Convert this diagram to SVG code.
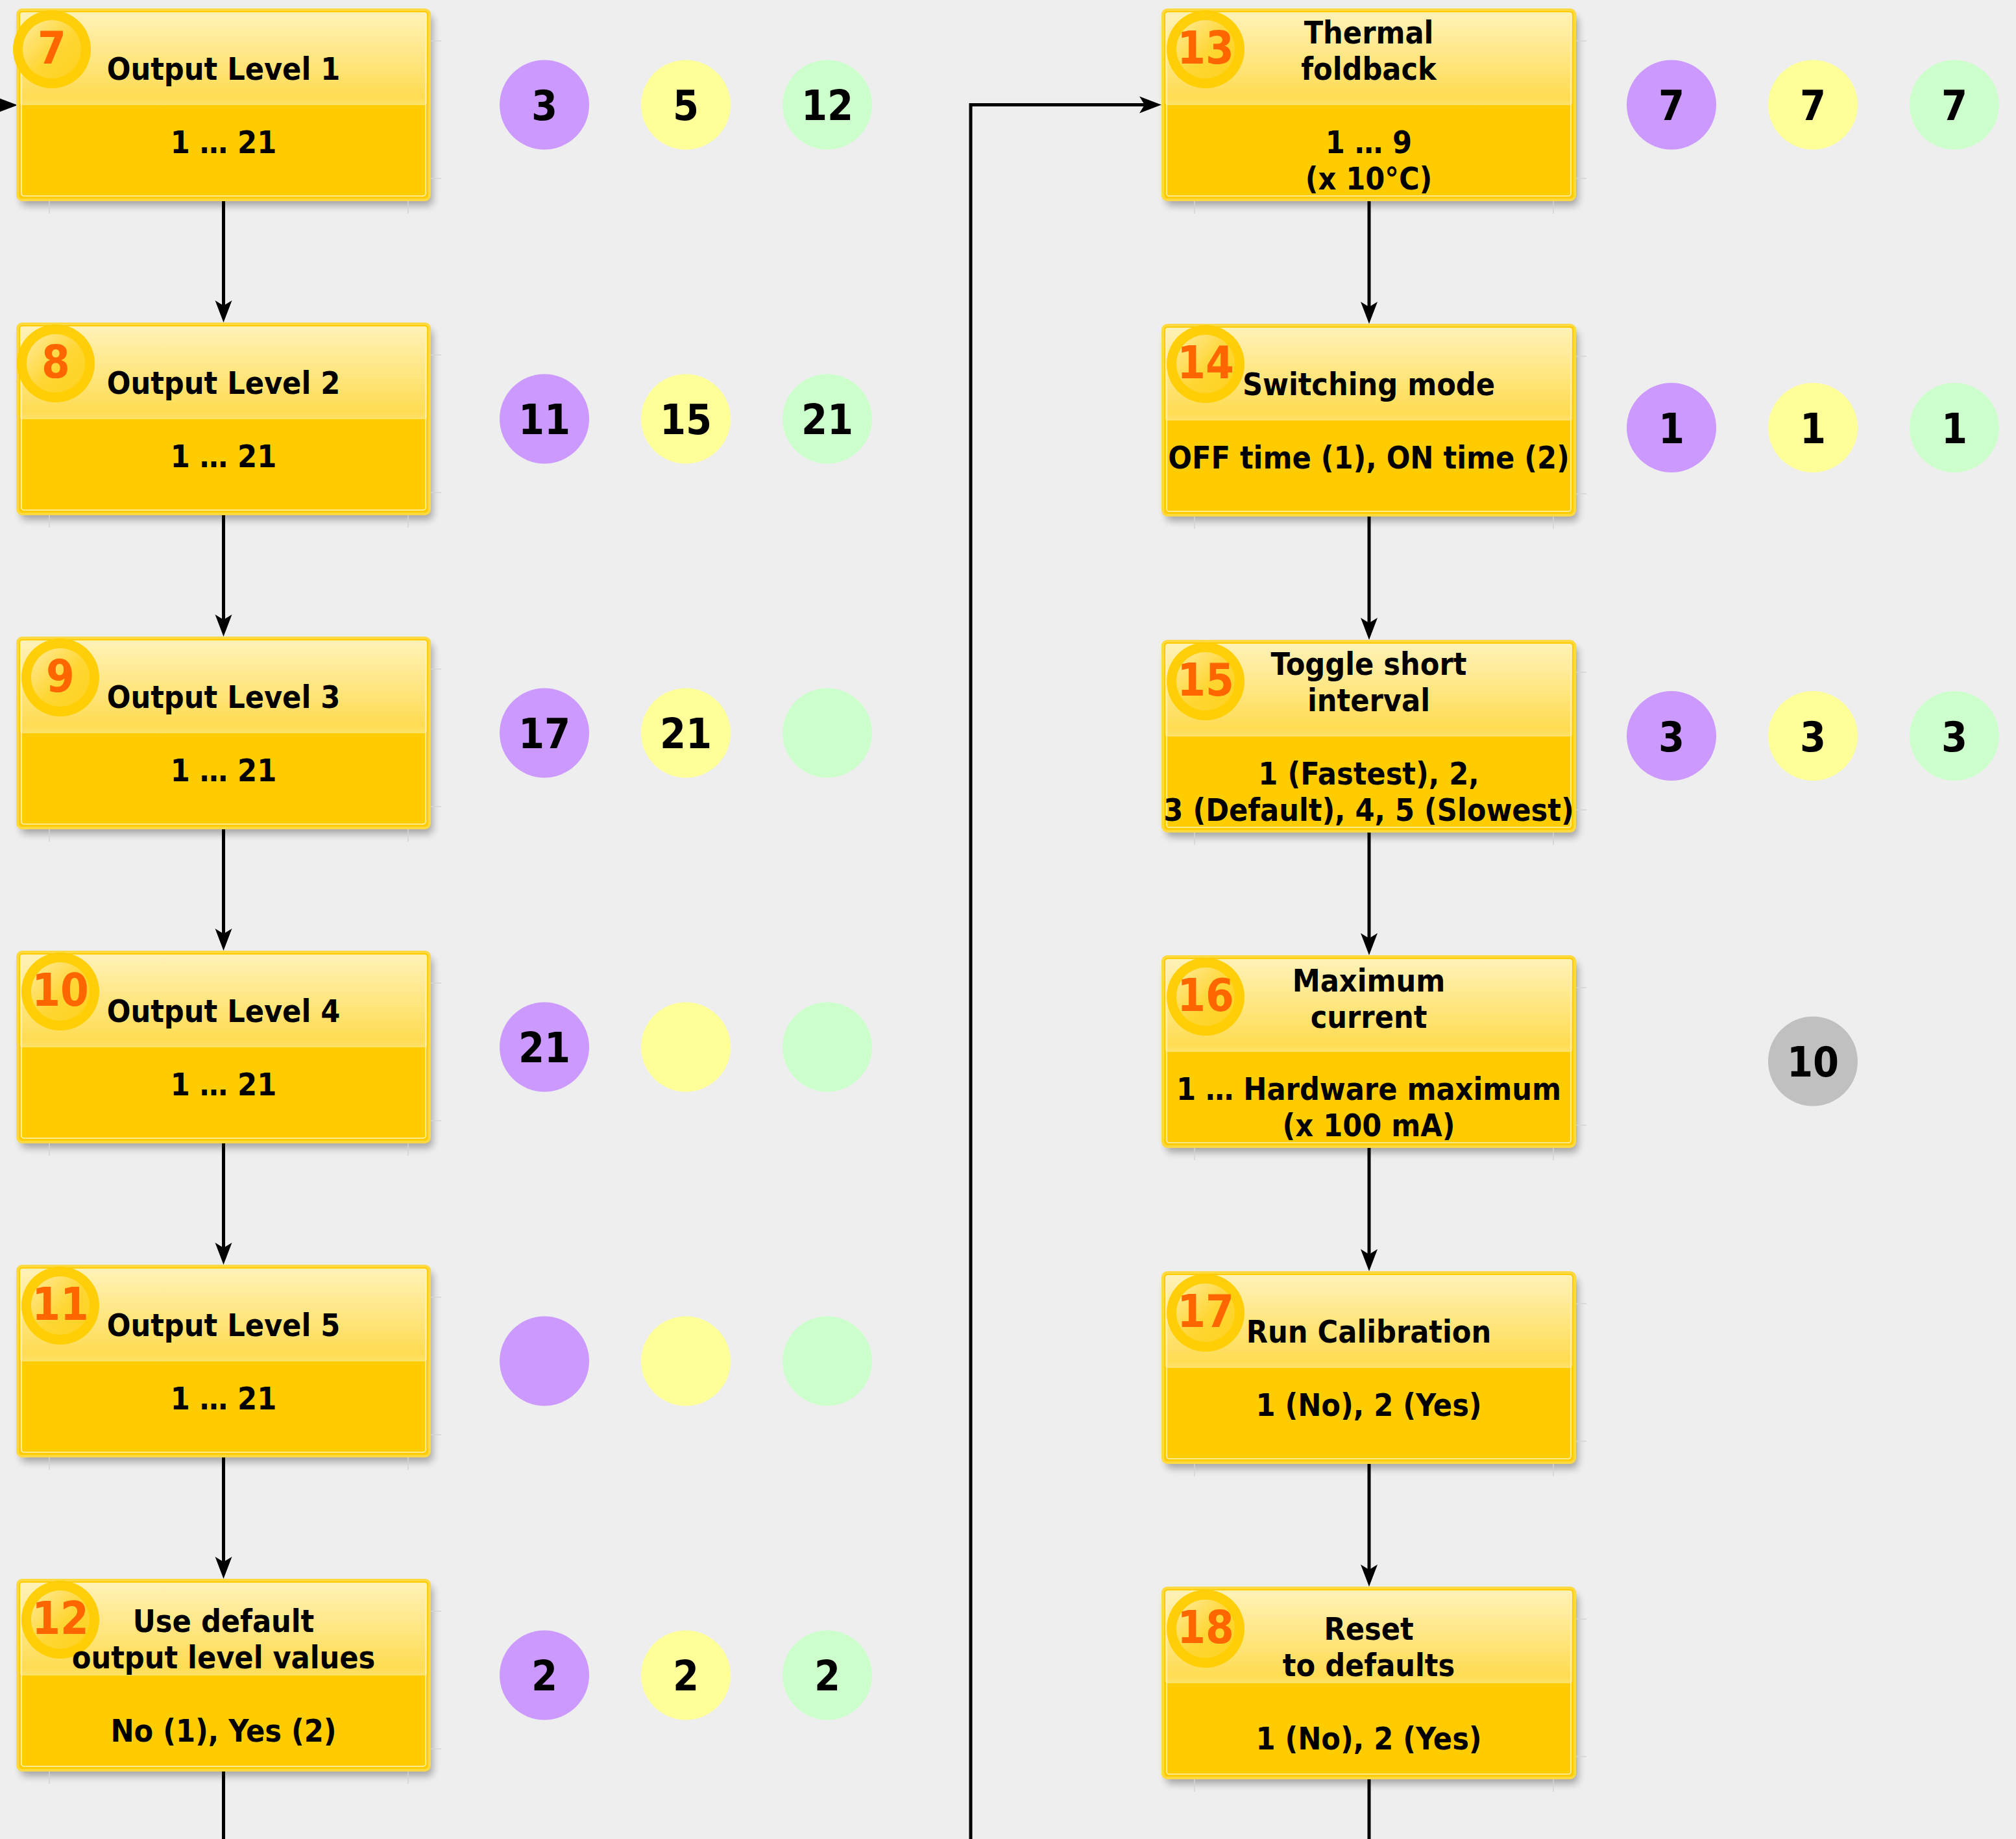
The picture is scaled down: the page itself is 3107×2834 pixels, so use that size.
<svg xmlns="http://www.w3.org/2000/svg" width="3107" height="2834" viewBox="0 0 3107 2834">
<defs>
<style>
.bg{fill:#EEEEEE}
.sh{fill:#000;opacity:.3}
.sl{stroke:#D4D4D4;stroke-width:1.5;fill:none}
.box{fill:#FFCC00;stroke:#FFD940;stroke-width:4}
.hdr{fill:url(#hg)}
.inb{fill:none;stroke:#FFF2B8;stroke-width:1.6}
.ring{fill:#FFCC00;opacity:.95}
.core{fill:url(#bg2)}
.t{font-family:"DejaVu Sans Condensed","DejaVu Sans",sans-serif;font-stretch:condensed;font-weight:bold;font-size:48px;text-anchor:middle;fill:#000}
.n{font-family:"DejaVu Sans Condensed","DejaVu Sans",sans-serif;font-stretch:condensed;font-weight:bold;font-size:70px;text-anchor:middle;fill:#FF6600}
.c{font-family:"DejaVu Sans Condensed","DejaVu Sans",sans-serif;font-stretch:condensed;font-weight:bold;font-size:64px;text-anchor:middle;fill:#000}
.pu{fill:#CC99FF}.ye{fill:#FFFF99}.gr{fill:#CCFFCC}.gy{fill:#C0C0C0}
.cn{fill:none;stroke:#000;stroke-width:5}
</style>
<linearGradient id="hg" x1="0" y1="0" x2="0" y2="1">
<stop offset="0" stop-color="#FFF2B8"/>
<stop offset="0.92" stop-color="#FFDC52"/>
<stop offset="1" stop-color="#FFE26C"/>
</linearGradient>
<linearGradient id="bg2" x1="0" y1="0" x2="1" y2="1">
<stop offset="0" stop-color="#FFEB9A"/>
<stop offset="0.55" stop-color="#FFD633"/>
<stop offset="1" stop-color="#FFD21F"/>
</linearGradient>
<filter id="blur" x="-10%" y="-10%" width="125%" height="135%">
<feGaussianBlur stdDeviation="6"/>
</filter>
<marker id="arr" viewBox="-9 -14 36 28" refX="0" refY="0" markerWidth="36" markerHeight="28" markerUnits="userSpaceOnUse" orient="auto">
<path d="M26,0 L-8,-13 L0,0 L-8,13 Z" fill="#000"/>
</marker>
<g id="frame">
<rect class="sh" x="5" y="9" width="635" height="293" rx="8" filter="url(#blur)"/>
<path class="sl" d="M49,293 V314 M602,293 V314 M635,48 H653 M635,260 H653"/>
<rect class="box" x="0" y="0" width="635" height="293" rx="7"/>
<rect class="hdr" x="4" y="4" width="627" height="143" rx="4"/>
<rect class="inb" x="6" y="6" width="623" height="281" rx="4"/>
</g>
</defs>
<rect class="bg" x="0" y="0" width="3107" height="2834"/>

<g id="connectors">
<path class="cn" d="M-10,162 H1" marker-end="url(#arr)"/>
<path class="cn" d="M344.5,308 V471" marker-end="url(#arr)"/>
<path class="cn" d="M344.5,792 V955" marker-end="url(#arr)"/>
<path class="cn" d="M344.5,1276 V1439" marker-end="url(#arr)"/>
<path class="cn" d="M344.5,1760 V1923" marker-end="url(#arr)"/>
<path class="cn" d="M344.5,2244 V2407" marker-end="url(#arr)"/>
<path class="cn" d="M344.5,2728 V2840"/>
<path class="cn" d="M1496,2840 V161.5 H1764" marker-end="url(#arr)"/>
<path class="cn" d="M2110,308 V473" marker-end="url(#arr)"/>
<path class="cn" d="M2110,794 V960" marker-end="url(#arr)"/>
<path class="cn" d="M2110,1281 V1446" marker-end="url(#arr)"/>
<path class="cn" d="M2110,1767 V1933" marker-end="url(#arr)"/>
<path class="cn" d="M2110,2254 V2419" marker-end="url(#arr)"/>
<path class="cn" d="M2110,2740 V2840"/>
</g>

<g id="node7" transform="translate(27,15)">
<use href="#frame"/>
<circle class="ring" cx="53" cy="61" r="60"/><circle class="core" cx="53" cy="61" r="45"/>
<text class="n" x="53" y="83">7</text>
<text class="t" x="317.5" y="108">Output Level 1</text>
<text class="t" x="317.5" y="221">1 … 21</text>
</g>
<g id="node8" transform="translate(27,499)">
<use href="#frame"/>
<circle class="ring" cx="59" cy="61" r="60"/><circle class="core" cx="59" cy="61" r="45"/>
<text class="n" x="59" y="83">8</text>
<text class="t" x="317.5" y="108">Output Level 2</text>
<text class="t" x="317.5" y="221">1 … 21</text>
</g>
<g id="node9" transform="translate(27,983)">
<use href="#frame"/>
<circle class="ring" cx="66" cy="61" r="60"/><circle class="core" cx="66" cy="61" r="45"/>
<text class="n" x="66" y="83">9</text>
<text class="t" x="317.5" y="108">Output Level 3</text>
<text class="t" x="317.5" y="221">1 … 21</text>
</g>
<g id="node10" transform="translate(27,1467)">
<use href="#frame"/>
<circle class="ring" cx="66" cy="61" r="60"/><circle class="core" cx="66" cy="61" r="45"/>
<text class="n" x="66" y="83">10</text>
<text class="t" x="317.5" y="108">Output Level 4</text>
<text class="t" x="317.5" y="221">1 … 21</text>
</g>
<g id="node11" transform="translate(27,1951)">
<use href="#frame"/>
<circle class="ring" cx="66" cy="61" r="60"/><circle class="core" cx="66" cy="61" r="45"/>
<text class="n" x="66" y="83">11</text>
<text class="t" x="317.5" y="108">Output Level 5</text>
<text class="t" x="317.5" y="221">1 … 21</text>
</g>
<g id="node12" transform="translate(27,2435)">
<use href="#frame"/>
<circle class="ring" cx="66" cy="61" r="60"/><circle class="core" cx="66" cy="61" r="45"/>
<text class="n" x="66" y="83">12</text>
<text class="t" x="317.5" y="80">Use default</text>
<text class="t" x="317.5" y="136">output level values</text>
<text class="t" x="317.5" y="249">No (1), Yes (2)</text>
</g>

<g id="node13" transform="translate(1792,15)">
<use href="#frame"/>
<circle class="ring" cx="66" cy="61" r="60"/><circle class="core" cx="66" cy="61" r="45"/>
<text class="n" x="66" y="83">13</text>
<text class="t" x="317.5" y="52">Thermal</text>
<text class="t" x="317.5" y="108">foldback</text>
<text class="t" x="317.5" y="221">1 … 9</text>
<text class="t" x="317.5" y="277">(x 10°C)</text>
</g>
<g id="node14" transform="translate(1792,501)">
<use href="#frame"/>
<circle class="ring" cx="66" cy="60" r="60"/><circle class="core" cx="66" cy="60" r="45"/>
<text class="n" x="66" y="82">14</text>
<text class="t" x="317.5" y="108">Switching mode</text>
<text class="t" x="317.5" y="221">OFF time (1), ON time (2)</text>
</g>
<g id="node15" transform="translate(1792,988)">
<use href="#frame"/>
<circle class="ring" cx="66" cy="62" r="60"/><circle class="core" cx="66" cy="62" r="45"/>
<text class="n" x="66" y="84">15</text>
<text class="t" x="317.5" y="52">Toggle short</text>
<text class="t" x="317.5" y="108">interval</text>
<text class="t" x="317.5" y="221">1 (Fastest), 2,</text>
<text class="t" x="317.5" y="277">3 (Default), 4, 5 (Slowest)</text>
</g>
<g id="node16" transform="translate(1792,1474)">
<use href="#frame"/>
<circle class="ring" cx="66" cy="62" r="60"/><circle class="core" cx="66" cy="62" r="45"/>
<text class="n" x="66" y="84">16</text>
<text class="t" x="317.5" y="54">Maximum</text>
<text class="t" x="317.5" y="110">current</text>
<text class="t" x="317.5" y="221">1 … Hardware maximum</text>
<text class="t" x="317.5" y="277">(x 100 mA)</text>
</g>
<g id="node17" transform="translate(1792,1961)">
<use href="#frame"/>
<circle class="ring" cx="66" cy="62" r="60"/><circle class="core" cx="66" cy="62" r="45"/>
<text class="n" x="66" y="84">17</text>
<text class="t" x="317.5" y="108">Run Calibration</text>
<text class="t" x="317.5" y="221">1 (No), 2 (Yes)</text>
</g>
<g id="node18" transform="translate(1792,2447)">
<use href="#frame"/>
<circle class="ring" cx="66" cy="63" r="60"/><circle class="core" cx="66" cy="63" r="45"/>
<text class="n" x="66" y="85">18</text>
<text class="t" x="317.5" y="80">Reset</text>
<text class="t" x="317.5" y="136">to defaults</text>
<text class="t" x="317.5" y="249">1 (No), 2 (Yes)</text>
</g>

<g id="values-left">
<circle class="pu" cx="839" cy="161.5" r="69"/><text class="c" x="839" y="185">3</text>
<circle class="ye" cx="1057" cy="161.5" r="69"/><text class="c" x="1057" y="185">5</text>
<circle class="gr" cx="1275" cy="161.5" r="69"/><text class="c" x="1275" y="185">12</text>
<circle class="pu" cx="839" cy="645.5" r="69"/><text class="c" x="839" y="669">11</text>
<circle class="ye" cx="1057" cy="645.5" r="69"/><text class="c" x="1057" y="669">15</text>
<circle class="gr" cx="1275" cy="645.5" r="69"/><text class="c" x="1275" y="669">21</text>
<circle class="pu" cx="839" cy="1129.5" r="69"/><text class="c" x="839" y="1153">17</text>
<circle class="ye" cx="1057" cy="1129.5" r="69"/><text class="c" x="1057" y="1153">21</text>
<circle class="gr" cx="1275" cy="1129.5" r="69"/>
<circle class="pu" cx="839" cy="1613.5" r="69"/><text class="c" x="839" y="1637">21</text>
<circle class="ye" cx="1057" cy="1613.5" r="69"/>
<circle class="gr" cx="1275" cy="1613.5" r="69"/>
<circle class="pu" cx="839" cy="2097.5" r="69"/>
<circle class="ye" cx="1057" cy="2097.5" r="69"/>
<circle class="gr" cx="1275" cy="2097.5" r="69"/>
<circle class="pu" cx="839" cy="2581.5" r="69"/><text class="c" x="839" y="2605">2</text>
<circle class="ye" cx="1057" cy="2581.5" r="69"/><text class="c" x="1057" y="2605">2</text>
<circle class="gr" cx="1275" cy="2581.5" r="69"/><text class="c" x="1275" y="2605">2</text>
</g>
<g id="values-right">
<circle class="pu" cx="2576" cy="161.5" r="69"/><text class="c" x="2576" y="185">7</text>
<circle class="ye" cx="2794" cy="161.5" r="69"/><text class="c" x="2794" y="185">7</text>
<circle class="gr" cx="3012" cy="161.5" r="69"/><text class="c" x="3012" y="185">7</text>
<circle class="pu" cx="2576" cy="659" r="69"/><text class="c" x="2576" y="682.5">1</text>
<circle class="ye" cx="2794" cy="659" r="69"/><text class="c" x="2794" y="682.5">1</text>
<circle class="gr" cx="3012" cy="659" r="69"/><text class="c" x="3012" y="682.5">1</text>
<circle class="pu" cx="2576" cy="1134" r="69"/><text class="c" x="2576" y="1157.5">3</text>
<circle class="ye" cx="2794" cy="1134" r="69"/><text class="c" x="2794" y="1157.5">3</text>
<circle class="gr" cx="3012" cy="1134" r="69"/><text class="c" x="3012" y="1157.5">3</text>
<circle class="gy" cx="2794" cy="1635.5" r="69"/><text class="c" x="2794" y="1659">10</text>
</g>
</svg>
